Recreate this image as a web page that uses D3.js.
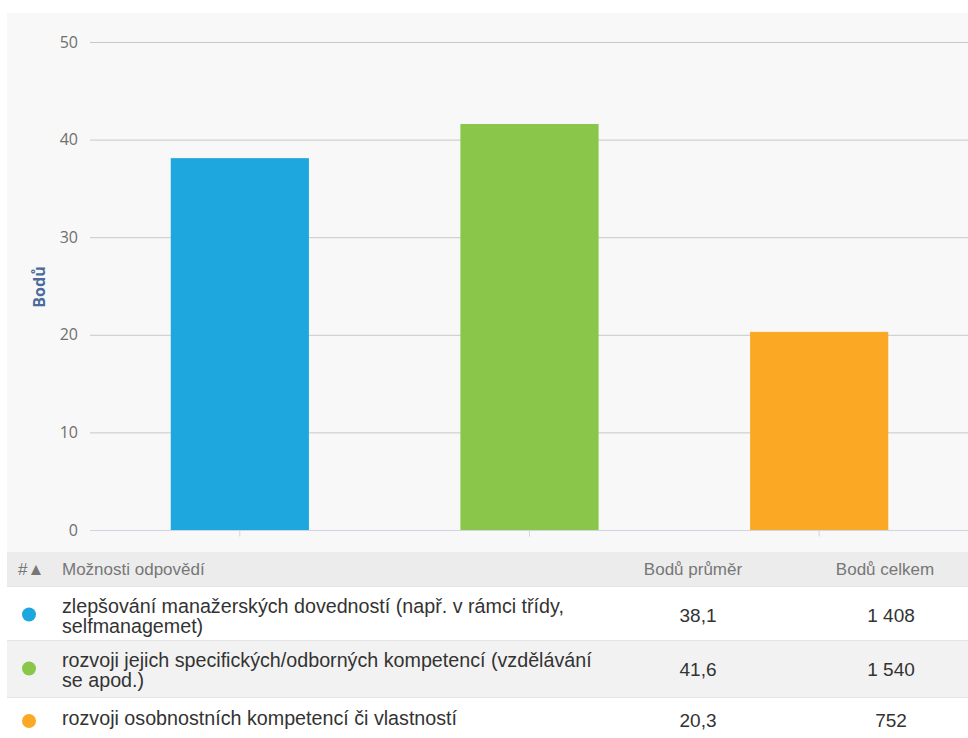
<!DOCTYPE html>
<html>
<head>
<meta charset="utf-8">
<script src="https://cdn.jsdelivr.net/npm/d3@7"></script>
<style>
  body { margin: 0; background: #fff; }
  svg { display: block; }
</style>
</head>
<body>
<svg id="chart" width="968" height="738"></svg>
<script>
const categories = ["A", "B", "C"];
const labelLines = [
	["zlepšování manažerských dovedností (např. v rámci třídy,", "selfmanagemet)"],
	["rozvoji jejich specifických/odborných kompetencí (vzdělávání", "se apod.)"],
	["rozvoji osobnostních kompetencí či vlastností"]
];
const averages = [38.1, 41.6, 20.3];
const totals = [1408, 1540, 752];
const colors = ["#1ea7df", "#8ac64a", "#fba925"];
const yTicks = [0, 10, 20, 30, 40, 50];

const svg = d3.select("#chart");
const margin = { left: 90, top: 42 };
const width = 968;
const plotBottom = 530;

svg.append("rect")
	.attr("x", 7).attr("y", 13)
	.attr("width", width - 7).attr("height", 539)
	.attr("fill", "#f8f8f8");

const y = d3.scaleLinear().domain([0, 50]).range([plotBottom, margin.top]);
const x = d3.scaleBand().domain(categories).range([95, 964]).paddingInner(0.523).paddingOuter(0.2615);

// grid + y labels
const yAxis = svg.append("g")
	.attr("transform", "translate(" + margin.left + ",0)")
	.call(d3.axisLeft(y).tickValues(yTicks).tickSize(-(width - margin.left)).tickPadding(12).tickFormat(d3.format("d")));
yAxis.select(".domain").remove();
yAxis.selectAll(".tick line").attr("stroke", "#c8c8c8").attr("stroke-width", 1);
yAxis.selectAll(".tick text")
	.attr("fill", "#6f6f6f")
	.attr("font-family", "Open Sans, sans-serif")
	.attr("font-size", 16);

svg.append("text")
	.attr("transform", "translate(45,287) rotate(-90)")
	.attr("text-anchor", "middle")
	.attr("fill", "#4a6b9c")
	.attr("font-family", "Open Sans, sans-serif")
	.attr("font-weight", "bold")
	.attr("font-size", 16)
	.text("Bodů");

// bars
svg.append("g").selectAll("rect")
	.data(averages)
	.join("rect")
	.attr("x", (d, i) => x(categories[i]))
	.attr("y", (d) => y(d))
	.attr("width", x.bandwidth())
	.attr("height", (d) => plotBottom - y(d))
	.attr("fill", (d, i) => colors[i]);

// x axis
const xAxis = svg.append("g")
	.attr("transform", "translate(0," + (plotBottom + 0.5) + ")")
	.call(d3.axisBottom(x).tickSize(6).tickFormat(""));
xAxis.select(".domain").attr("stroke", "#cdd6e2").attr("d", "M" + margin.left + ",0H" + width);
xAxis.selectAll(".tick line").attr("stroke", "#cdd6e2");

// table
const table = svg.append("g").attr("font-family", "Arial, Liberation Sans, sans-serif");
table.append("rect").attr("x", 7).attr("y", 552).attr("width", width - 7).attr("height", 34).attr("fill", "#ececec");
const head = [
	{ t: "#\u25B2", x: 18, a: "start" },
	{ t: "Možnosti odpovědí", x: 62, a: "start" },
	{ t: "Bodů průměr", x: 693, a: "middle" },
	{ t: "Bodů celkem", x: 885, a: "middle" }
];
table.selectAll("text.head")
	.data(head)
	.join("text")
	.attr("class", "head")
	.attr("x", (d) => d.x).attr("y", 575)
	.attr("text-anchor", (d) => d.a)
	.attr("fill", "#777")
	.attr("font-size", 17)
	.text((d) => d.t);

const rowTops = [587, 641, 698];
const rowHeights = [54, 57, 40];
const rowFills = ["#ffffff", "#f2f2f2", "#ffffff"];
const fmtAvg = (v) => v.toFixed(1).replace(".", ",");
const fmtTot = (v) => d3.format(",")(v).replace(/,/g, "\u00a0");

const rows = table.selectAll("g.row")
	.data(categories)
	.join("g")
	.attr("class", "row")
	.attr("transform", (d, i) => "translate(0," + rowTops[i] + ")");

rows.append("rect")
	.attr("x", 7).attr("width", width - 7)
	.attr("height", (d, i) => rowHeights[i])
	.attr("fill", (d, i) => rowFills[i]);
rows.append("line")
	.attr("x1", 7).attr("x2", width)
	.attr("y1", -0.5).attr("y2", -0.5)
	.attr("stroke", "#e4e4e4");

const two = (i) => labelLines[i].length > 1;
rows.append("circle")
	.attr("cx", 29)
	.attr("cy", (d, i) => (two(i) ? 27.5 : 23))
	.attr("r", 7)
	.attr("fill", (d, i) => colors[i]);

rows.append("text")
	.attr("fill", "#333")
	.attr("font-size", 19.7)
	.each(function (d, i) {
		const t = d3.select(this);
		const first = two(i) ? 26 : 26.5;
		labelLines[i].forEach((l, j) => {
			t.append("tspan").attr("x", 62).attr("y", first + j * 20).text(l);
		});
	});

rows.append("text")
	.attr("x", 698)
	.attr("y", (d, i) => (two(i) ? 34.5 : 29))
	.attr("text-anchor", "middle")
	.attr("fill", "#333")
	.attr("font-size", 19)
	.text((d, i) => fmtAvg(averages[i]));

rows.append("text")
	.attr("x", 891)
	.attr("y", (d, i) => (two(i) ? 34.5 : 29))
	.attr("text-anchor", "middle")
	.attr("fill", "#333")
	.attr("font-size", 19)
	.text((d, i) => fmtTot(totals[i]));
</script>
</body>
</html>
